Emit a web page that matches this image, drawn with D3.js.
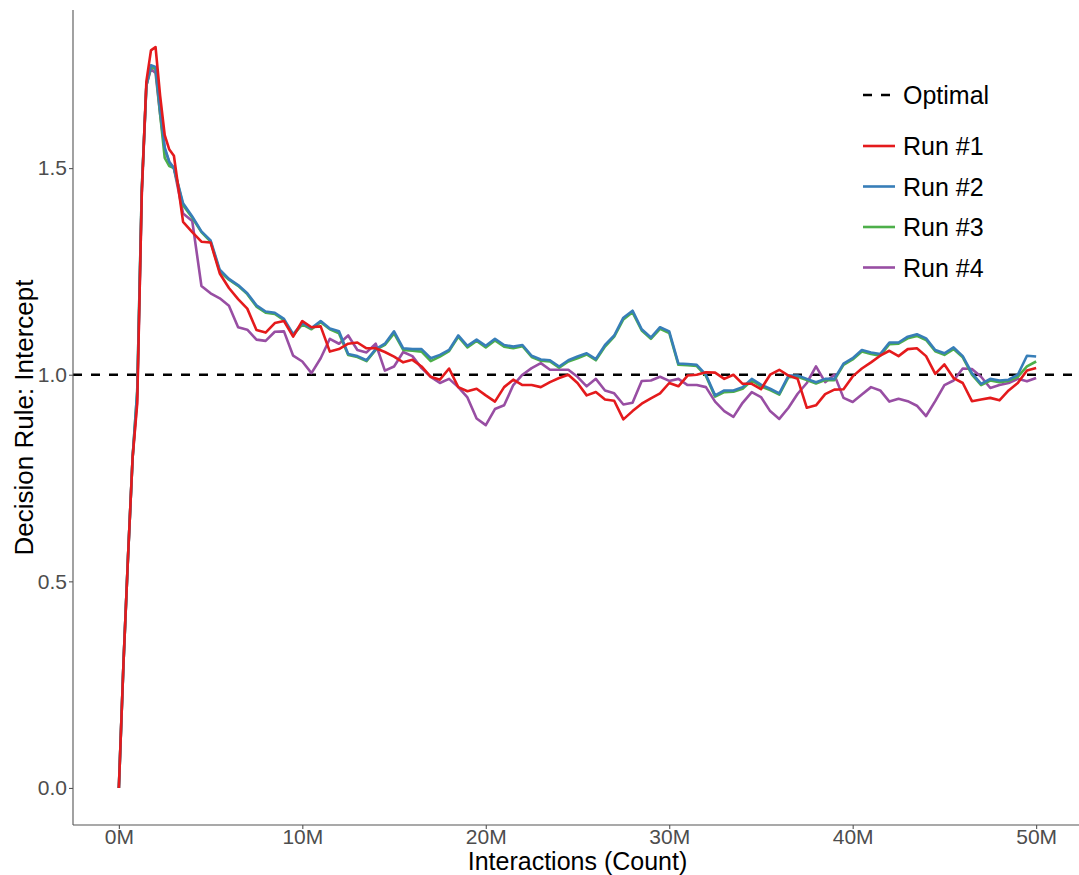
<!DOCTYPE html>
<html>
<head>
<meta charset="utf-8">
<script src="https://d3js.org/d3.v7.min.js"></script>
<style>
  body { margin: 0; background: #fff; }
  text { font-family: "Liberation Sans", Arial, sans-serif; }
</style>
</head>
<body>
<div id="chart"></div>
<script>
// interactions, in millions
const xs = [0, 0.25, 0.5, 0.75, 1, 1.25, 1.5, 1.75, 2, 2.25, 2.5, 2.75, 3,
  3.5, 4, 4.5, 5, 5.5, 6, 6.5, 7, 7.5, 8, 8.5, 9, 9.5, 10, 10.5, 11, 11.5, 12,
  12.5, 13, 13.5, 14, 14.5, 15, 15.5, 16, 16.5, 17, 17.5, 18, 18.5, 19, 19.5, 20,
  20.5, 21, 21.5, 22, 22.5, 23, 23.5, 24, 24.5, 25, 25.5,
  26, 26.5, 27, 27.5, 28, 28.5, 29, 29.5, 30, 30.5, 31, 31.5, 32, 32.5, 33,
  33.5, 34, 34.5, 35, 35.5, 36, 36.5, 37, 37.5, 38, 38.5,
  39, 39.5, 40, 40.5, 41, 41.5, 42, 42.5, 43, 43.5, 44, 44.5, 45, 45.5, 46,
  46.5, 47, 47.5, 48, 48.5, 49, 49.5, 50];

const run1 = [0, 0.3, 0.56, 0.8, 0.93, 1.44, 1.71, 1.785, 1.793, 1.675, 1.58, 1.545, 1.53,
  1.37, 1.345, 1.322, 1.32, 1.245, 1.21, 1.183, 1.16, 1.108, 1.102, 1.125, 1.13, 1.092, 1.13, 1.115, 1.117, 1.056, 1.062,
  1.075, 1.078, 1.064, 1.064, 1.055, 1.044, 1.03, 1.036, 1.02, 0.995, 0.988, 1.015, 0.97, 0.96, 0.966, 0.95,
  0.935, 0.97, 0.988, 0.975, 0.975, 0.97, 0.982, 0.992, 1.0, 0.98, 0.95,
  0.958, 0.94, 0.937, 0.892, 0.912, 0.93, 0.943, 0.955, 0.98, 0.972, 0.998, 1.0, 1.006, 1.005, 0.99,
  1.0, 0.978, 0.978, 0.965, 1.0, 1.012, 0.998, 0.99, 0.92, 0.926, 0.953,
  0.964, 0.965, 0.996, 1.015, 1.03, 1.046, 1.058, 1.045, 1.062, 1.064, 1.045, 1.002, 1.025, 0.992, 0.98,
  0.936, 0.94, 0.944, 0.938, 0.962, 0.98, 1.01, 1.016];

const run2 = [0, 0.3, 0.56, 0.8, 0.96, 1.45, 1.70, 1.749, 1.745, 1.64, 1.55, 1.515, 1.50,
  1.415, 1.383, 1.347, 1.325, 1.254, 1.232, 1.217, 1.197, 1.168, 1.153, 1.15, 1.135, 1.098, 1.125, 1.113, 1.13, 1.112, 1.105,
  1.05, 1.045, 1.035, 1.062, 1.075, 1.105, 1.064, 1.062, 1.062, 1.04, 1.048, 1.06, 1.095, 1.07, 1.085, 1.07,
  1.087, 1.072, 1.068, 1.072, 1.046, 1.037, 1.035, 1.02, 1.035, 1.044, 1.052,
  1.038, 1.072, 1.095, 1.138, 1.155, 1.11, 1.09, 1.115, 1.105, 1.027, 1.026, 1.024, 1.0, 0.95, 0.962,
  0.962, 0.97, 0.99, 0.976, 0.966, 0.955, 0.998, 0.998, 0.99, 0.982, 0.99,
  0.99, 1.027, 1.04, 1.06, 1.054, 1.05, 1.078, 1.078, 1.092, 1.098, 1.088, 1.06, 1.052, 1.066, 1.045,
  1.004, 0.978, 0.99, 0.986, 0.988, 1.0, 1.046, 1.044];

const run3 = [0, 0.3, 0.56, 0.8, 0.96, 1.45, 1.70, 1.745, 1.74, 1.63, 1.525, 1.505, 1.50,
  1.41, 1.38, 1.345, 1.322, 1.25, 1.23, 1.215, 1.195, 1.165, 1.15, 1.147, 1.132, 1.096, 1.122, 1.11, 1.127, 1.11, 1.1,
  1.048, 1.043, 1.033, 1.06, 1.072, 1.1, 1.06, 1.058, 1.056, 1.033, 1.044, 1.057, 1.092, 1.066, 1.082, 1.066,
  1.083, 1.068, 1.064, 1.069, 1.043, 1.034, 1.032, 1.017, 1.032, 1.04, 1.049,
  1.035, 1.068, 1.092, 1.134, 1.151, 1.107, 1.087, 1.111, 1.101, 1.024, 1.023, 1.021, 0.997, 0.947, 0.958,
  0.959, 0.966, 0.986, 0.972, 0.963, 0.952, 0.994, 0.995, 0.987, 0.979, 0.987,
  0.987, 1.024, 1.037, 1.056, 1.05, 1.046, 1.074, 1.075, 1.088, 1.094, 1.084, 1.057, 1.048, 1.062, 1.042,
  1.0, 0.975, 0.986, 0.982, 0.985, 0.995, 1.02, 1.032];

const run4 = [0, 0.3, 0.56, 0.8, 0.94, 1.44, 1.70, 1.74, 1.73, 1.63, 1.545, 1.515, 1.50,
  1.39, 1.372, 1.215, 1.197, 1.185, 1.167, 1.115, 1.109, 1.085, 1.082, 1.104, 1.105, 1.046, 1.032, 1.004, 1.04, 1.087, 1.075,
  1.095, 1.06, 1.054, 1.075, 1.01, 1.02, 1.055, 1.045, 1.016, 0.995, 0.98, 0.99, 0.97, 0.945, 0.894, 0.878,
  0.917, 0.926, 0.975, 1.0, 1.016, 1.028, 1.012, 1.012, 1.012, 0.995, 0.972,
  0.99, 0.962, 0.955, 0.928, 0.932, 0.985, 0.986, 0.995, 0.985, 0.99, 0.975, 0.975, 0.97, 0.935, 0.912,
  0.898, 0.932, 0.958, 0.946, 0.912, 0.893, 0.92, 0.954, 0.98, 1.02, 0.982,
  1.0, 0.944, 0.934, 0.952, 0.97, 0.962, 0.935, 0.942, 0.936, 0.925, 0.9, 0.936, 0.975, 0.986, 1.015,
  1.014, 0.995, 0.968, 0.975, 0.98, 0.99, 0.984, 0.992];

const optimal = 1.0;
const runNames = ['Run #1', 'Run #2', 'Run #3', 'Run #4'];
const runColors = ['#e41a1c', '#377eb8', '#4daf4a', '#984ea3'];
const xTicks = [0, 10, 20, 30, 40, 50];
const yTicks = [0, 0.5, 1.0, 1.5];

const width = 1079;
const height = 875;
const panel = { left: 73, top: 10, right: 1082, bottom: 825 };

const runs = [run1, run2, run3, run4].map((vals, i) => ({
  name: runNames[i],
  color: runColors[i],
  points: xs.map((x, j) => ({ x, y: vals[j] })),
}));

// ggplot style 5% expansion on both axes
const xExt = d3.extent(xs);
const yExt = d3.extent([].concat(run1, run2, run3, run4, [optimal]));
const xPad = (xExt[1] - xExt[0]) * 0.05;
const yPad = (yExt[1] - yExt[0]) * 0.05;

const x = d3.scaleLinear()
  .domain([xExt[0] - xPad, xExt[1] + xPad])
  .range([panel.left, panel.right]);
const y = d3.scaleLinear()
  .domain([yExt[0] - yPad, yExt[1] + yPad])
  .range([panel.bottom, panel.top]);

const svg = d3.select('#chart')
  .append('svg')
  .attr('width', width)
  .attr('height', height);

// reference line
svg.append('line')
  .attr('x1', panel.left)
  .attr('x2', panel.right)
  .attr('y1', y(optimal))
  .attr('y2', y(optimal))
  .attr('stroke', '#000')
  .attr('stroke-width', 2.5)
  .attr('stroke-dasharray', '9,9');

const line = d3.line()
  .x((d) => x(d.x))
  .y((d) => y(d.y));

// draw last run first so run #1 ends on top
svg.append('g')
  .selectAll('path')
  .data([runs[3], runs[2], runs[1], runs[0]])
  .enter()
  .append('path')
  .attr('d', (d) => line(d.points))
  .attr('fill', 'none')
  .attr('stroke', (d) => d.color)
  .attr('stroke-width', 2.6)
  .attr('stroke-linejoin', 'round');

// axes
const xAxis = svg.append('g')
  .attr('transform', `translate(0,${panel.bottom})`)
  .call(d3.axisBottom(x).tickValues(xTicks).tickSize(4).tickPadding(0)
    .tickFormat((d) => `${d}M`));
const yAxis = svg.append('g')
  .attr('transform', `translate(${panel.left},0)`)
  .call(d3.axisLeft(y).tickValues(yTicks).tickSize(4).tickPadding(2)
    .tickFormat(d3.format('.1f')));

[xAxis, yAxis].forEach((ax) => {
  ax.select('.domain').attr('stroke', '#555').attr('stroke-width', 1.1);
  ax.selectAll('.tick line').attr('stroke', '#555').attr('stroke-width', 1.1);
  ax.selectAll('.tick text')
    .attr('fill', '#4d4d4d')
    .style('font-size', '21px')
    .style('font-family', '"Liberation Sans", Arial, sans-serif');
});
yAxis.select('.domain').attr('d', `M0,${panel.top}V${panel.bottom}`);
xAxis.select('.domain').attr('d', `M${panel.left},0H${panel.right}`);

// axis titles
svg.append('text')
  .attr('x', (panel.left + panel.right) / 2)
  .attr('y', 870)
  .attr('text-anchor', 'middle')
  .style('font-size', '25px')
  .text('Interactions (Count)');

svg.append('text')
  .attr('transform', `translate(33,${(panel.top + panel.bottom) / 2}) rotate(-90)`)
  .attr('text-anchor', 'middle')
  .style('font-size', '26px')
  .text('Decision Rule: Intercept');

// legend
const legend = svg.append('g');
legend.append('line')
  .attr('x1', 863).attr('x2', 891)
  .attr('y1', 95).attr('y2', 95)
  .attr('stroke', '#000')
  .attr('stroke-width', 2.5)
  .attr('stroke-dasharray', '9,9');
legend.append('text')
  .attr('x', 903).attr('y', 95)
  .attr('dy', '0.36em')
  .style('font-size', '25px')
  .text('Optimal');

const keys = legend.selectAll('g.key')
  .data(runs)
  .enter()
  .append('g')
  .attr('class', 'key')
  .attr('transform', (d, i) => `translate(0,${146 + i * 40.5})`);
keys.append('line')
  .attr('x1', 863).attr('x2', 895)
  .attr('stroke', (d) => d.color)
  .attr('stroke-width', 2.6);
keys.append('text')
  .attr('x', 903)
  .attr('dy', '0.36em')
  .style('font-size', '25px')
  .text((d) => d.name);
</script>
</body>
</html>
